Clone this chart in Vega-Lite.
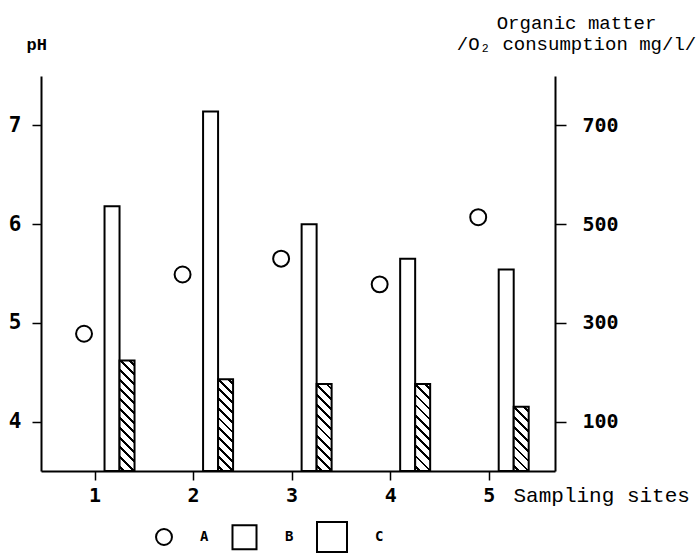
{
  "$schema": "https://vega.github.io/schema/vega-lite/v6.json",
  "width": 514,
  "height": 395,
  "autosize": {"type": "none"},
  "padding": {"left": 41, "top": 76, "right": 141, "bottom": 83},
  "background": "white",
  "data": {
    "values": [
      {"site": 1, "series": "A", "value": 4.89},
      {"site": 2, "series": "A", "value": 5.49},
      {"site": 3, "series": "A", "value": 5.65},
      {"site": 4, "series": "A", "value": 5.39},
      {"site": 5, "series": "A", "value": 6.07},
      {"site": 1, "series": "B", "value": 536},
      {"site": 2, "series": "B", "value": 728},
      {"site": 3, "series": "B", "value": 500},
      {"site": 4, "series": "B", "value": 430},
      {"site": 5, "series": "B", "value": 408},
      {"site": 1, "series": "C", "value": 224},
      {"site": 2, "series": "C", "value": 186},
      {"site": 3, "series": "C", "value": 176},
      {"site": 4, "series": "C", "value": 176},
      {"site": 5, "series": "C", "value": 130}
    ]
  },
  "layer": [
    {
      "layer": [
        {
          "transform": [{"filter": "datum.series === 'B'"}],
          "mark": {"type": "bar", "orient": "vertical", "width": 15, "xOffset": 17.5, "fill": "white", "stroke": "black", "strokeWidth": 2},
          "encoding": {
            "x": {"field": "site", "type": "quantitative", "scale": {"domain": [0.5075, 5.622], "nice": false, "zero": false}},
            "y": {"field": "value", "type": "quantitative", "scale": {"domain": [0, 800], "nice": false, "zero": true},
              "axis": {"orient": "right", "values": [100, 300, 500, 700], "format": "d",
                "title": ["Organic matter", "/O₂ consumption mg/l/"],
                "titleAngle": 0, "titleX": 21, "titleY": -48, "titleAlign": "center", "titleBaseline": "alphabetic",
                "titleFont": "Liberation Mono", "titleFontSize": 19, "titleFontWeight": "normal", "titleLineHeight": 21,
                "labelFont": "DejaVu Sans Mono", "labelFontWeight": "bold", "labelFontSize": 20,
                "labelPadding": 16, "tickSize": 11, "labelBaseline": "middle", "labelAlign": "left"}}
          }
        },
        {
          "transform": [{"filter": "datum.series === 'C'"}],
          "mark": {"type": "bar", "orient": "vertical", "width": 15, "xOffset": 32.5, "stroke": "black", "strokeWidth": 2},
          "encoding": {
            "x": {"field": "site", "type": "quantitative", "scale": {"domain": [0.5075, 5.622], "nice": false, "zero": false}},
            "y": {"field": "value", "type": "quantitative"},
            "fill": {
              "condition": [
                {"test": "datum.site === 1", "value": {"gradient": "linear", "x1": 0, "y1": 1, "x2": 0.15125, "y2": -0.1152, "stops": [
                  {"offset": 0, "color": "#fff"},
                  {"offset": 0.0274, "color": "#fff"}, {"offset": 0.0274, "color": "#000"}, {"offset": 0.0496, "color": "#000"}, {"offset": 0.0496, "color": "#fff"},
                  {"offset": 0.1043, "color": "#fff"}, {"offset": 0.1043, "color": "#000"}, {"offset": 0.1265, "color": "#000"}, {"offset": 0.1265, "color": "#fff"},
                  {"offset": 0.1812, "color": "#fff"}, {"offset": 0.1812, "color": "#000"}, {"offset": 0.2034, "color": "#000"}, {"offset": 0.2034, "color": "#fff"},
                  {"offset": 0.2581, "color": "#fff"}, {"offset": 0.2581, "color": "#000"}, {"offset": 0.2803, "color": "#000"}, {"offset": 0.2803, "color": "#fff"},
                  {"offset": 0.3351, "color": "#fff"}, {"offset": 0.3351, "color": "#000"}, {"offset": 0.3573, "color": "#000"}, {"offset": 0.3573, "color": "#fff"},
                  {"offset": 0.412, "color": "#fff"}, {"offset": 0.412, "color": "#000"}, {"offset": 0.4342, "color": "#000"}, {"offset": 0.4342, "color": "#fff"},
                  {"offset": 0.4889, "color": "#fff"}, {"offset": 0.4889, "color": "#000"}, {"offset": 0.5111, "color": "#000"}, {"offset": 0.5111, "color": "#fff"},
                  {"offset": 0.5658, "color": "#fff"}, {"offset": 0.5658, "color": "#000"}, {"offset": 0.588, "color": "#000"}, {"offset": 0.588, "color": "#fff"},
                  {"offset": 0.6427, "color": "#fff"}, {"offset": 0.6427, "color": "#000"}, {"offset": 0.6649, "color": "#000"}, {"offset": 0.6649, "color": "#fff"},
                  {"offset": 0.7197, "color": "#fff"}, {"offset": 0.7197, "color": "#000"}, {"offset": 0.7419, "color": "#000"}, {"offset": 0.7419, "color": "#fff"},
                  {"offset": 0.7966, "color": "#fff"}, {"offset": 0.7966, "color": "#000"}, {"offset": 0.8188, "color": "#000"}, {"offset": 0.8188, "color": "#fff"},
                  {"offset": 0.8735, "color": "#fff"}, {"offset": 0.8735, "color": "#000"}, {"offset": 0.8957, "color": "#000"}, {"offset": 0.8957, "color": "#fff"},
                  {"offset": 0.9504, "color": "#fff"}, {"offset": 0.9504, "color": "#000"}, {"offset": 0.9726, "color": "#000"}, {"offset": 0.9726, "color": "#fff"},
                  {"offset": 1, "color": "#fff"}]}},
                {"test": "datum.site === 2", "value": {"gradient": "linear", "x1": 0, "y1": 1, "x2": 0.18506, "y2": -0.1331, "stops": [
                  {"offset": 0, "color": "#fff"},
                  {"offset": 0.0324, "color": "#fff"}, {"offset": 0.0324, "color": "#000"}, {"offset": 0.0586, "color": "#000"}, {"offset": 0.0586, "color": "#fff"},
                  {"offset": 0.1233, "color": "#fff"}, {"offset": 0.1233, "color": "#000"}, {"offset": 0.1495, "color": "#000"}, {"offset": 0.1495, "color": "#fff"},
                  {"offset": 0.2142, "color": "#fff"}, {"offset": 0.2142, "color": "#000"}, {"offset": 0.2404, "color": "#000"}, {"offset": 0.2404, "color": "#fff"},
                  {"offset": 0.3051, "color": "#fff"}, {"offset": 0.3051, "color": "#000"}, {"offset": 0.3313, "color": "#000"}, {"offset": 0.3313, "color": "#fff"},
                  {"offset": 0.396, "color": "#fff"}, {"offset": 0.396, "color": "#000"}, {"offset": 0.4222, "color": "#000"}, {"offset": 0.4222, "color": "#fff"},
                  {"offset": 0.4869, "color": "#fff"}, {"offset": 0.4869, "color": "#000"}, {"offset": 0.5131, "color": "#000"}, {"offset": 0.5131, "color": "#fff"},
                  {"offset": 0.5778, "color": "#fff"}, {"offset": 0.5778, "color": "#000"}, {"offset": 0.604, "color": "#000"}, {"offset": 0.604, "color": "#fff"},
                  {"offset": 0.6687, "color": "#fff"}, {"offset": 0.6687, "color": "#000"}, {"offset": 0.6949, "color": "#000"}, {"offset": 0.6949, "color": "#fff"},
                  {"offset": 0.7596, "color": "#fff"}, {"offset": 0.7596, "color": "#000"}, {"offset": 0.7858, "color": "#000"}, {"offset": 0.7858, "color": "#fff"},
                  {"offset": 0.8505, "color": "#fff"}, {"offset": 0.8505, "color": "#000"}, {"offset": 0.8767, "color": "#000"}, {"offset": 0.8767, "color": "#fff"},
                  {"offset": 0.9414, "color": "#fff"}, {"offset": 0.9414, "color": "#000"}, {"offset": 0.9676, "color": "#000"}, {"offset": 0.9676, "color": "#fff"},
                  {"offset": 1, "color": "#fff"}]}},
                {"test": "datum.site === 5", "value": {"gradient": "linear", "x1": 0, "y1": 1, "x2": 0.27338, "y2": -0.1698, "stops": [
                  {"offset": 0, "color": "#fff"},
                  {"offset": 0.0448, "color": "#fff"}, {"offset": 0.0448, "color": "#000"}, {"offset": 0.0802, "color": "#000"}, {"offset": 0.0802, "color": "#fff"},
                  {"offset": 0.1698, "color": "#fff"}, {"offset": 0.1698, "color": "#000"}, {"offset": 0.2052, "color": "#000"}, {"offset": 0.2052, "color": "#fff"},
                  {"offset": 0.2948, "color": "#fff"}, {"offset": 0.2948, "color": "#000"}, {"offset": 0.3302, "color": "#000"}, {"offset": 0.3302, "color": "#fff"},
                  {"offset": 0.4198, "color": "#fff"}, {"offset": 0.4198, "color": "#000"}, {"offset": 0.4552, "color": "#000"}, {"offset": 0.4552, "color": "#fff"},
                  {"offset": 0.5448, "color": "#fff"}, {"offset": 0.5448, "color": "#000"}, {"offset": 0.5802, "color": "#000"}, {"offset": 0.5802, "color": "#fff"},
                  {"offset": 0.6698, "color": "#fff"}, {"offset": 0.6698, "color": "#000"}, {"offset": 0.7052, "color": "#000"}, {"offset": 0.7052, "color": "#fff"},
                  {"offset": 0.7948, "color": "#fff"}, {"offset": 0.7948, "color": "#000"}, {"offset": 0.8302, "color": "#000"}, {"offset": 0.8302, "color": "#fff"},
                  {"offset": 0.9198, "color": "#fff"}, {"offset": 0.9198, "color": "#000"}, {"offset": 0.9552, "color": "#000"}, {"offset": 0.9552, "color": "#fff"},
                  {"offset": 1, "color": "#fff"}]}}
              ],
              "value": {"gradient": "linear", "x1": 0, "y1": 1, "x2": 0.19656, "y2": -0.1387, "stops": [
                {"offset": 0, "color": "#fff"},
                {"offset": 0.0363, "color": "#fff"}, {"offset": 0.0363, "color": "#000"}, {"offset": 0.0637, "color": "#000"}, {"offset": 0.0637, "color": "#fff"},
                {"offset": 0.1363, "color": "#fff"}, {"offset": 0.1363, "color": "#000"}, {"offset": 0.1637, "color": "#000"}, {"offset": 0.1637, "color": "#fff"},
                {"offset": 0.2363, "color": "#fff"}, {"offset": 0.2363, "color": "#000"}, {"offset": 0.2637, "color": "#000"}, {"offset": 0.2637, "color": "#fff"},
                {"offset": 0.3363, "color": "#fff"}, {"offset": 0.3363, "color": "#000"}, {"offset": 0.3637, "color": "#000"}, {"offset": 0.3637, "color": "#fff"},
                {"offset": 0.4363, "color": "#fff"}, {"offset": 0.4363, "color": "#000"}, {"offset": 0.4637, "color": "#000"}, {"offset": 0.4637, "color": "#fff"},
                {"offset": 0.5363, "color": "#fff"}, {"offset": 0.5363, "color": "#000"}, {"offset": 0.5637, "color": "#000"}, {"offset": 0.5637, "color": "#fff"},
                {"offset": 0.6363, "color": "#fff"}, {"offset": 0.6363, "color": "#000"}, {"offset": 0.6637, "color": "#000"}, {"offset": 0.6637, "color": "#fff"},
                {"offset": 0.7363, "color": "#fff"}, {"offset": 0.7363, "color": "#000"}, {"offset": 0.7637, "color": "#000"}, {"offset": 0.7637, "color": "#fff"},
                {"offset": 0.8363, "color": "#fff"}, {"offset": 0.8363, "color": "#000"}, {"offset": 0.8637, "color": "#000"}, {"offset": 0.8637, "color": "#fff"},
                {"offset": 0.9363, "color": "#fff"}, {"offset": 0.9363, "color": "#000"}, {"offset": 0.9637, "color": "#000"}, {"offset": 0.9637, "color": "#fff"},
                {"offset": 1, "color": "#fff"}]}
            }
          }
        }
      ]
    },
    {
      "transform": [{"filter": "datum.series === 'A'"}],
      "mark": {"type": "point", "filled": false, "stroke": "black", "strokeWidth": 2, "opacity": 1, "xOffset": -10.5},
      "encoding": {
        "x": {"field": "site", "type": "quantitative", "scale": {"domain": [0.5075, 5.622], "nice": false, "zero": false},
          "axis": {"values": [1, 2, 3, 4, 5], "format": "d", "title": "Sampling sites", "titleX": 472, "titleY": 30, "titleAlign": "left", "titleAnchor": "start",
            "titleBaseline": "alphabetic", "titleFont": "Liberation Mono", "titleFontSize": 21, "titleFontWeight": "normal",
            "labelFont": "DejaVu Sans Mono", "labelFontWeight": "bold", "labelFontSize": 20, "labelBaseline": "alphabetic",
            "labelPadding": 21, "ticks": true, "tickSize": 9, "tickColor": "black", "tickWidth": 1.5, "labelFlush": false, "labelOverlap": false}},
        "y": {"field": "value", "type": "quantitative", "scale": {"domain": [3.5, 7.5], "nice": false, "zero": false},
          "axis": {"orient": "left", "values": [4, 5, 6, 7], "format": "d", "title": "pH", "titleAngle": 0, "titleX": -15, "titleY": -27,
            "titleAlign": "left", "titleBaseline": "alphabetic", "titleFont": "Liberation Mono", "titleFontWeight": "bold", "titleFontSize": 17,
            "labelFont": "DejaVu Sans Mono", "labelFontWeight": "bold", "labelFontSize": 21, "labelPadding": 11, "tickSize": 9,
            "labelBaseline": "middle", "labelAlign": "right"}},
        "shape": {"field": "series", "type": "nominal",
          "scale": {"domain": ["A", "B", "C"], "range": ["circle", "square", "square"]},
          "legend": {
            "title": null, "orient": "none", "legendX": 114, "legendY": 445, "direction": "horizontal",
            "symbolStrokeWidth": 2, "symbolStrokeColor": "black",
            "labelFont": "DejaVu Sans Mono", "labelFontWeight": "bold", "labelFontSize": 14, "labelColor": "black",
            "labelOffset": 27, "columnPadding": 19, "padding": 0
          }
        },
        "size": {"field": "series", "type": "nominal",
          "scale": {"domain": ["A", "B", "C"], "range": [254, 900, 900]},
          "legend": {
            "title": null, "orient": "none", "legendX": 114, "legendY": 445, "direction": "horizontal",
            "symbolStrokeWidth": 2, "symbolStrokeColor": "black",
            "labelFont": "DejaVu Sans Mono", "labelFontWeight": "bold", "labelFontSize": 14, "labelColor": "black",
            "labelOffset": 27, "columnPadding": 19, "padding": 0
          }
        }
      }
    }
  ],
  "resolve": {"scale": {"y": "independent"}},
  "config": {
    "view": {"stroke": null},
    "axis": {"grid": false, "domainColor": "black", "domainWidth": 2, "tickColor": "black", "tickWidth": 1.5,
      "labelColor": "black", "titleColor": "black"}
  }
}
